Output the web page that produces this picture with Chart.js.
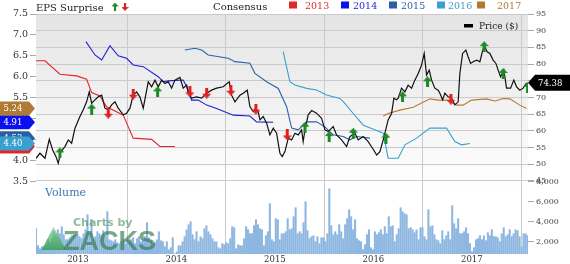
<!DOCTYPE html>
<html><head><meta charset="utf-8">
<script src="https://cdn.jsdelivr.net/npm/chart.js@4/dist/chart.umd.min.js"></script>
<style>html,body{margin:0;padding:0;background:#fff;}#wrap{width:570px;height:264px;position:relative;}</style>
</head><body><div id="wrap"><canvas id="c" width="570" height="264"></canvas></div>
<script>
// ---------------- DATA ----------------
const xTickYears = [2013, 2014, 2015, 2016, 2017];
const epsTicks = [3.5, 4.0, 4.5, 5.0, 5.5, 6.0, 6.5, 7.0, 7.5];
const priceTicks = [45, 50, 55, 60, 65, 70, 75, 80, 85, 90, 95];
const volumeTicks = [2000, 4000, 6000, 8000];
const seriesNames = ['2013', '2014', '2015', '2016', '2017'];

const priceDates = [2012.574,2012.614,2012.665,2012.709,2012.743,2012.777,2012.800,2012.827,2012.868,2012.902,
2012.936,2012.970,2013.020,2013.054,2013.088,2013.115,2013.139,2013.173,2013.206,2013.241,
2013.274,2013.308,2013.342,2013.376,2013.409,2013.460,2013.494,2013.528,2013.561,2013.596,
2013.629,2013.663,2013.714,2013.748,2013.782,2013.815,2013.850,2013.883,2013.917,2013.951,
2013.985,2014.036,2014.069,2014.104,2014.120,2014.154,2014.205,2014.256,2014.307,2014.357,
2014.408,2014.475,2014.536,2014.560,2014.594,2014.645,2014.678,2014.719,2014.746,2014.780,
2014.804,2014.830,2014.848,2014.881,2014.916,2014.949,2014.983,2015.017,2015.051,2015.074,
2015.102,2015.135,2015.170,2015.203,2015.237,2015.271,2015.287,2015.305,2015.338,2015.373,
2015.423,2015.474,2015.508,2015.541,2015.592,2015.626,2015.677,2015.728,2015.761,2015.812,
2015.846,2015.897,2015.947,2015.998,2016.033,2016.066,2016.100,2016.150,2016.185,2016.208,
2016.236,2016.252,2016.286,2016.320,2016.353,2016.388,2016.421,2016.455,2016.489,2016.516,
2016.540,2016.567,2016.591,2016.624,2016.658,2016.675,2016.703,2016.726,2016.759,2016.794,
2016.827,2016.861,2016.878,2016.906,2016.939,2016.962,2016.987,2017.013,2017.048,2017.081,
2017.098,2017.125,2017.155,2017.183,2017.216,2017.244,2017.267,2017.291,2017.325,2017.352,
2017.393,2017.426,2017.454,2017.487,2017.521,2017.555];
const prices = [51.8,53.3,51.8,57.5,54.3,52.3,50.3,53.8,55.3,57.3,
56.3,60.8,64.3,66.3,68.7,71.7,68.3,69.3,70.2,70.7,
66.8,66.3,67.8,68.7,66.8,64.8,65.3,66.8,70.7,71.7,
70.2,66.8,74.7,73.2,75.2,73.2,75.2,74.2,74.7,72.8,
75.2,76.0,72.8,73.7,71.3,69.8,70.2,69.8,71.3,72.2,
72.8,73.2,74.7,70.7,68.7,70.7,71.3,72.2,67.3,65.8,
66.8,65.8,63.3,64.3,62.3,58.8,60.8,59.3,53.3,52.3,
53.8,57.8,57.3,59.3,58.8,60.3,56.8,60.3,64.8,66.1,
65.3,63.8,60.3,59.8,61.3,58.8,57.3,55.3,58.3,59.3,
57.3,58.3,56.8,54.5,52.8,53.8,57.3,63.3,65.3,69.8,
69.3,69.8,72.8,71.7,73.7,72.8,75.2,77.2,79.7,83.2,
76.7,78.2,75.2,72.8,72.2,71.3,69.3,71.3,70.2,69.8,
67.8,68.7,77.2,83.2,84.2,82.2,80.2,80.7,81.2,80.7,
82.7,85.7,83.7,83.2,81.2,80.2,78.2,76.2,78.2,72.8,
72.8,75.2,73.2,72.2,72.8,74.38];

const cons2013Dates = [2012.574,2012.665,2012.817,2012.987,2013.088,2013.139,2013.223,2013.291,2013.460,2013.511,2013.561,2013.748,2013.832,2013.985];
const cons2013 = [6.38,6.38,6.06,6.02,5.94,5.62,5.54,5.28,5.08,4.80,4.53,4.50,4.33,4.33];
const cons2014Dates = [2013.081,2013.173,2013.241,2013.325,2013.409,2013.494,2013.561,2013.663,2013.815,2013.866,2013.917,2014.069,2014.104,2014.154,2014.221,2014.307,2014.408,2014.577,2014.746,2014.814,2014.983];
const cons2014 = [6.84,6.52,6.40,6.74,6.50,6.44,6.28,6.24,6.00,5.88,5.90,5.92,5.76,5.44,5.44,5.32,5.24,5.08,5.06,4.92,4.91];
const cons2015Dates = [2014.086,2014.188,2014.256,2014.323,2014.526,2014.594,2014.746,2014.797,2014.916,2015.034,2015.119,2015.170,2015.237,2015.322,2015.423,2015.508,2015.592,2015.694,2015.761,2015.829,2015.964];
const cons2015 = [6.64,6.68,6.64,6.52,6.44,6.36,6.32,6.08,5.88,5.72,5.28,4.77,4.73,4.92,4.92,4.80,4.61,4.57,4.49,4.57,4.53];
const cons2016Dates = [2015.084,2015.152,2015.203,2015.322,2015.423,2015.525,2015.660,2015.711,2015.795,2015.897,2016.015,2016.100,2016.150,2016.252,2016.320,2016.439,2016.574,2016.743,2016.827,2016.895,2016.980];
const cons2016 = [6.60,5.88,5.80,5.72,5.68,5.56,5.48,5.36,5.12,4.84,4.73,4.65,4.05,4.05,4.37,4.53,4.77,4.77,4.45,4.37,4.40];
const cons2017Dates = [2016.100,2016.150,2016.269,2016.404,2016.574,2016.658,2016.743,2016.845,2016.912,2016.997,2017.149,2017.234,2017.318,2017.386,2017.487,2017.555];
const cons2017 = [5.06,5.12,5.20,5.27,5.47,5.44,5.44,5.32,5.32,5.44,5.47,5.42,5.48,5.47,5.32,5.24];

const surpriseDates = [2012.817,2013.139,2013.308,2013.561,2013.809,2014.137,2014.307,2014.553,2014.807,2015.125,2015.305,2015.551,2015.795,2016.127,2016.296,2016.550,2016.787,2017.125,2017.318,2017.565];
const surprisePrices = [53.4,66.5,65.3,71.0,71.7,71.7,71.3,72.2,66.5,58.8,61.1,58.3,59.3,57.8,70.2,74.7,69.5,85.2,77.2,73.0];
const surpriseDir = ['up','up','down','down','up','down','down','down','down','down','up','up','up','up','up','up','down','up','up','up'];

// weekly volume, thousands of shares
const volumeStart = 2012.574;
const volumeEnd = 2017.565;
const volumeK = [3.3,1.6,1.3,1.5,1.5,1.7,2.2,1.9,2.3,3.0,2.7,3.2,2.8,3.5,2.7,2.2,2.2,2.4,2.6,2.6,2.7,2.7,2.5,2.3,2.8,3.2,4.7,2.9,4.2,2.3,2.5,3.0,2.8,2.6,3.1,2.5,5.0,2.2,2.1,2.0,2.2,1.9,1.8,2.0,2.2,1.8,2.2,2.1,2.2,2.4,1.8,2.3,2.5,2.0,2.2,2.5,3.9,2.4,2.1,1.8,1.9,2.2,
3.0,2.1,2.0,1.5,2.0,1.2,1.4,2.4,0.8,1.0,1.6,1.6,2.0,2.5,3.2,3.7,4.0,2.7,2.2,3.0,2.0,2.5,2.3,3.3,3.6,3.0,2.7,2.3,2.0,2.0,1.4,1.3,1.8,1.7,1.9,1.8,2.3,3.5,3.4,1.3,1.7,1.6,1.6,2.3,3.5,3.2,2.8,2.8,3.6,4.2,3.7,3.3,3.2,1.6,2.6,3.0,5.8,2.2,2.0,4.3,4.2,2.2,
2.8,2.8,3.0,4.3,3.2,3.3,4.5,5.4,2.8,3.0,2.8,3.9,6.0,3.1,2.3,2.5,2.6,2.0,2.5,1.8,2.4,2.4,2.0,2.8,7.3,3.6,2.7,3.0,2.7,3.7,3.0,2.3,3.7,4.3,5.2,4.5,3.2,4.2,2.3,2.1,2.0,1.2,1.7,2.7,3.2,1.4,1.2,3.0,2.7,2.9,3.2,2.7,3.5,2.8,4.5,3.5,3.6,2.0,2.7,3.3,5.4,5.0,4.8,
4.7,3.3,3.4,3.2,2.9,3.2,2.2,3.4,3.4,2.5,2.2,5.2,3.5,3.6,2.7,2.2,2.1,1.8,3.1,2.2,2.6,3.0,2.2,5.6,3.8,3.3,4.3,2.8,2.8,3.0,3.4,2.8,1.8,1.0,1.4,2.2,2.3,2.6,2.2,2.6,2.1,2.9,2.6,3.2,2.5,2.5,2.4,2.0,2.8,3.4,2.5,2.7,3.2,2.5,2.8,3.2,3.1,2.5,1.5,2.8,2.8,2.6];

// ---------------- STYLE ----------------
const COLORS = { '2013':'#e3262b', '2014':'#1f1fd6', '2015':'#2b63a8', '2016':'#3b9fd2', '2017':'#b27b30' };
const FLAG_COLORS = { '2013':'#e3262b', '2014':'#0a10ee', '2015':'#2a5fa6', '2016':'#3aa0d0', '2017':'#b07a32' };
const SERIF = '"DejaVu Serif", serif';

const xy = (xs, ys) => xs.map((x, i) => ({ x: x, y: ys[i] }));
const consDates = { '2013':cons2013Dates, '2014':cons2014Dates, '2015':cons2015Dates, '2016':cons2016Dates, '2017':cons2017Dates };
const consVals = { '2013':cons2013, '2014':cons2014, '2015':cons2015, '2016':cons2016, '2017':cons2017 };

function makeArrow(color, up) {
  const c = document.createElement('canvas'); c.width = 9; c.height = 11;
  const g = c.getContext('2d'); g.fillStyle = color; g.beginPath();
  if (up) { g.moveTo(4.5,0); g.lineTo(9,5); g.lineTo(6,5); g.lineTo(6,11); g.lineTo(3,11); g.lineTo(3,5); g.lineTo(0,5); }
  else { g.moveTo(3,0); g.lineTo(6,0); g.lineTo(6,6); g.lineTo(9,6); g.lineTo(4.5,11); g.lineTo(0,6); g.lineTo(3,6); }
  g.closePath(); g.fill(); return c;
}
const upArrow = makeArrow('#1c8a26', true);
const downArrow = makeArrow('#e2201f', false);

const volStep = (volumeEnd - volumeStart) / (volumeK.length - 1);
const volumeData = volumeK.map((v, i) => ({ x: volumeStart + i * volStep, y: v * 1000 }));

const datasets = [];
datasets.push({ type:'line', label:'EPS Surprise', data: xy(surpriseDates, surprisePrices), yAxisID:'yR', showLine:false,
  pointStyle: surpriseDir.map(d => d === 'up' ? upArrow : downArrow), pointRadius: 4, order: 0 });
datasets.push({ type:'line', label:'Price ($)', data: xy(priceDates, prices), yAxisID:'yR', borderColor:'#111', borderWidth:1.2, pointRadius:0, order:1 });
seriesNames.forEach(n => datasets.push({ type:'line', label:n, data: xy(consDates[n], consVals[n]), yAxisID:'yL', borderColor: COLORS[n], borderWidth:1.1, pointRadius:0, order:2 }));
datasets.push({ type:'bar', label:'Volume', data: volumeData, yAxisID:'yV', backgroundColor:'#8db6e0',
  borderWidth:0, barThickness:1.4, order:3 });

const bgPlugin = {
  id:'bg',
  afterLayout(chart) {
    // volume axis shares the price axis column on the right
    const v = chart.scales.yV;
    v.right = v.left + 42; v.width = 42;
  },
  beforeDraw(chart) {
    const { ctx, chartArea: a } = chart;
    const g = ctx.createLinearGradient(0, a.top, 0, 190);
    g.addColorStop(0, '#e4e4e4'); g.addColorStop(1, '#ffffff');
    ctx.save(); ctx.fillStyle = g; ctx.fillRect(a.left, a.top, a.right - a.left, a.bottom - a.top); ctx.restore();
  }
};

function drawFlagLeft(ctx, yc, color, text) {
  const h = 14, w = 29, tip = 6;
  ctx.beginPath(); ctx.moveTo(0, yc - h/2); ctx.lineTo(w, yc - h/2); ctx.lineTo(w + tip, yc); ctx.lineTo(w, yc + h/2); ctx.lineTo(0, yc + h/2); ctx.closePath();
  ctx.fillStyle = color; ctx.fill();
  ctx.fillStyle = '#fff'; ctx.font = '8.5px ' + SERIF; ctx.textAlign = 'left'; ctx.textBaseline = 'middle';
  ctx.fillText(text, 3.5, yc + 0.5);
}

const overlayPlugin = {
  id:'overlay',
  afterDraw(chart) {
    const { ctx, chartArea: a } = chart;
    const yL = chart.scales.yL, yR = chart.scales.yR;
    ctx.save();
    // watermark
    ctx.globalAlpha = 0.75;
    const tg = ctx.createLinearGradient(0, 227, 0, 250);
    tg.addColorStop(0, '#7fd08a'); tg.addColorStop(1, '#2f9a42');
    ctx.beginPath(); ctx.moveTo(41.5, 250); ctx.lineTo(66, 250); ctx.lineTo(53.5, 227); ctx.closePath(); ctx.fillStyle = tg; ctx.fill();
    ctx.fillStyle = 'rgba(80,150,100,0.85)'; ctx.font = 'bold 11px "DejaVu Sans", sans-serif'; ctx.textBaseline = 'alphabetic'; ctx.textAlign = 'left';
    ctx.fillText('Charts by', 73, 226);
    ctx.fillStyle = 'rgba(45,120,72,0.85)'; ctx.font = 'bold 27px "Liberation Sans", sans-serif';
    ctx.fillText('ZACKS', 63, 250);
    ctx.globalAlpha = 1;
    // Volume label
    ctx.fillStyle = '#3b79b4'; ctx.font = '11px ' + SERIF; ctx.fillText('Volume', 45, 196);
    // top legend
    ctx.fillStyle = '#222'; ctx.font = '10px ' + SERIF; ctx.fillText('EPS Surprise', 36, 11);
    ctx.drawImage(upArrow, 111.5, 2.5, 7, 8.5); ctx.drawImage(downArrow, 121.5, 2.5, 7, 8.5);
    ctx.fillText('Consensus', 213, 9.5);
    const legX = { '2013':[289,305], '2014':[341,353], '2015':[389,401], '2016':[437,448], '2017':[477,497] };
    ctx.font = '9.5px ' + SERIF;
    seriesNames.forEach(n => {
      ctx.fillStyle = FLAG_COLORS[n]; ctx.fillRect(legX[n][0], 1.5, 8, 7);
      ctx.fillStyle = COLORS[n]; ctx.fillText(n, legX[n][1], 9);
    });
    // price legend
    ctx.fillStyle = '#000'; ctx.fillRect(464, 24, 9, 3.5);
    ctx.fillStyle = '#222'; ctx.font = '9px ' + SERIF; ctx.fillText('Price ($)', 479, 29);
    // consensus flags
    ['2013','2015','2016','2014','2017'].forEach(n => {
      const vals = consVals[n]; const last = vals[vals.length - 1];
      drawFlagLeft(ctx, yL.getPixelForValue(last), FLAG_COLORS[n], last.toFixed(2));
    });
    // price flag
    const lastP = prices[prices.length - 1]; const py = yR.getPixelForValue(lastP);
    ctx.beginPath(); ctx.moveTo(a.right, py); ctx.lineTo(a.right + 7, py - 8); ctx.lineTo(570, py - 8); ctx.lineTo(570, py + 8); ctx.lineTo(a.right + 7, py + 8); ctx.closePath();
    ctx.fillStyle = '#000'; ctx.fill();
    ctx.fillStyle = '#fff'; ctx.font = '8.5px ' + SERIF; ctx.textBaseline = 'middle'; ctx.fillText(lastP.toFixed(2), a.right + 10, py + 0.5);
    ctx.restore();
  }
};

const tickFont = (s) => ({ family: 'DejaVu Serif', size: s });

new Chart(document.getElementById('c'), {
  type: 'line',
  data: { datasets },
  options: {
    responsive: false, animation: false, devicePixelRatio: 1,
    layout: { padding: { top: 14, left: 0, right: 0, bottom: 0 } },
    plugins: { legend: { display: false }, tooltip: { enabled: false } },
    elements: { line: { tension: 0 } },
    scales: {
      x: { type:'linear', min: 2012.574, max: 2017.57, offset:false,
        afterBuildTicks: s => { s.ticks = xTickYears.map(v => ({ value: v })); },
        afterFit: s => { s.height = 10; },
        ticks: { autoSkip:false, maxRotation:0, padding:1, font: tickFont(8.5), color:'#333', callback: v => String(v) },
        grid: { color:'#cacaca', drawTicks:false }, border: { display:false } },
      yV: { position:'right', weight: 0, min: 770, max: 24770,
        afterBuildTicks: s => { s.ticks = volumeTicks.map(v => ({ value: v })); },
        afterFit: s => { s.width = 0; },
        ticks: { autoSkip:false, padding:2, font: tickFont(8), color:'#444', callback: v => v.toLocaleString('en-US') },
        grid: { drawOnChartArea:false, drawTicks:true, tickLength:6, tickColor:'#aaa' }, border: { display:false } },
      yR: { position:'right', weight: 1, min: 23.14, max: 95,
        afterBuildTicks: s => { s.ticks = priceTicks.map(v => ({ value: v })); },
        afterFit: s => { s.width = 42; },
        ticks: { autoSkip:false, padding:2, font: tickFont(8), color:'#444', callback: v => String(v) },
        grid: { color:'#cacaca', drawTicks:true, tickLength:6, tickColor:'#aaa' }, border: { display:false } },
      yL: { position:'left', min: 1.758, max: 7.5,
        afterBuildTicks: s => { s.ticks = epsTicks.map(v => ({ value: v })); },
        afterFit: s => { s.width = 36; },
        ticks: { autoSkip:false, padding:2, font: tickFont(9.5), color:'#333', callback: v => Number(v).toFixed(1) },
        grid: { drawOnChartArea:false, drawTicks:true, tickLength:6, tickColor:'#aaa' }, border: { display:false } }
    }
  },
  plugins: [bgPlugin, overlayPlugin]
});
</script></body></html>
